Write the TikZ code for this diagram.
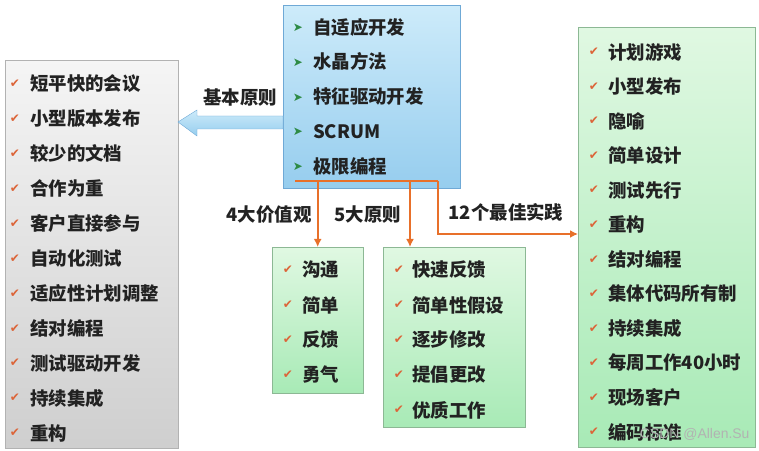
\documentclass[tikz,border=0pt]{standalone}
\usepackage{fontspec}
\setmainfont{Noto Sans CJK SC}
\newfontfamily\symfont{DejaVu Sans}
\newfontfamily\markfont{Liberation Sans}
\usetikzlibrary{arrows.meta}

\definecolor{xporange}{HTML}{E8702A}
\definecolor{chkred}{HTML}{DC6438}
\definecolor{bulletgreen}{HTML}{2E8B45}
\definecolor{skytop}{HTML}{CDEBFA}
\definecolor{skybottom}{HTML}{96CDEE}
\definecolor{skyline}{HTML}{6FA9D6}
\definecolor{minttop}{HTML}{E0F8E2}
\definecolor{mintbottom}{HTML}{A8EAB6}
\definecolor{mintline}{HTML}{8CB894}
\definecolor{inkdark}{HTML}{222222}

\begin{document}
\begin{tikzpicture}[x=1bp,y=-1bp,
	every node/.style={font=\fontsize{18.5}{22}\selectfont\bfseries,text=inkdark},
	item/.style={anchor=west,inner sep=0pt},
	chk/.style={font=\symfont\fontsize{12}{12}\selectfont,text=chkred,inner sep=0pt},
	pointer/.style={font=\symfont\fontsize{12}{12}\selectfont,text=bulletgreen,inner sep=0pt},
	graybox/.style={draw=gray!60,top color=gray!8,bottom color=gray!38,anchor=north west,inner sep=0pt},
	greenbox/.style={draw=mintline,top color=minttop,bottom color=mintbottom,anchor=north west,inner sep=0pt},
	bluebox/.style={draw=skyline,top color=skytop,bottom color=skybottom,anchor=north west,inner sep=0pt},
	orangeline/.style={draw=xporange,line width=2.2bp}]
	\useasboundingbox (0,0) rectangle (759,451);

	% boxes
	\node[graybox,minimum width=173bp,minimum height=388bp] (agile) at (5,60) {};
	\node[bluebox,minimum width=177bp,minimum height=183bp] (methods) at (283,5) {};
	\node[greenbox,minimum width=91bp,minimum height=146bp] (values) at (272,247) {};
	\node[greenbox,minimum width=142bp,minimum height=180bp] (rules) at (383,247) {};
	\node[greenbox,minimum width=177bp,minimum height=420bp] (best) at (578,27) {};

	% agile methods
	\foreach \t [count=\i] in {自适应开发,水晶方法,特征驱动开发,SCRUM,极限编程}
	{
		\node[pointer] (mp\i) at (298,{28+(\i-1)*34.75}) {➤};
		\node[item] (m\i) at (313,{27+(\i-1)*34.75}) {\t};
	}

	% basic principles
	\foreach \t [count=\i] in {短平快的会议,小型版本发布,较少的文档,合作为重,客户直接参与,自动化测试,适应性计划调整,结对编程,测试驱动开发,持续集成,重构}
	{
		\node[chk] (ac\i) at (15,{84+(\i-1)*34.9}) {✔};
		\node[item] (a\i) at (30,{84+(\i-1)*34.9}) {\t};
	}

	% values
	\foreach \t [count=\i] in {沟通,简单,反馈,勇气}
	{
		\node[chk] (vc\i) at (288,{270+(\i-1)*35}) {✔};
		\node[item] (v\i) at (302,{270+(\i-1)*35}) {\t};
	}

	% principles
	\foreach \t [count=\i] in {快速反馈,简单性假设,逐步修改,提倡更改,优质工作}
	{
		\node[chk] (rc\i) at (399,{270+(\i-1)*35}) {✔};
		\node[item] (r\i) at (412,{270+(\i-1)*35}) {\t};
	}

	% practices
	\foreach \t [count=\i] in {计划游戏,小型发布,隐喻,简单设计,测试先行,重构,结对编程,集体代码所有制,持续集成,每周工作40小时,现场客户,编码标准}
	{
		\node[chk] (bc\i) at (594,{52+(\i-1)*34.55}) {✔};
		\node[item] (b\i) at (608,{52+(\i-1)*34.55}) {\t};
	}

	% blue arrow to the left box
	\shadedraw[draw=skyline,top color=skytop,bottom color=skybottom]
		(283,116) -- (197,116) -- (197,110) -- (178,122) -- (197,136) -- (197,129) -- (283,129) -- cycle;
	\node (lbl-basic) at (240,98) {基本原则};

	% orange connectors
	\coordinate (bar-l) at (295,181);
	\coordinate (bar-r) at (438,181);
	\coordinate (rules-in) at (410,247);
	\coordinate (best-in) at (578,234);
	\draw[orangeline] (bar-l) -- (bar-r);
	\draw[orangeline,-{Latex[length=8bp,width=8bp]}] (bar-l -| values.north) -- (values.north);
	\draw[orangeline,-{Latex[length=8bp,width=8bp]}] (bar-l -| rules-in) -- (rules-in);
	\draw[orangeline,-{Latex[length=8bp,width=8bp]}] (bar-r) |- (best-in);

	\node (lbl-values) at (269,215) {4大价值观};
	\node (lbl-rules) at (368,215) {5大原则};
	\node (lbl-best) at (506,212) {12个最佳实践};

	\node[font=\markfont\fontsize{14}{14}\selectfont,text=gray!60,anchor=east] (mark) at (753,434) {CSDN @Allen.Su};
\end{tikzpicture}
\end{document}
